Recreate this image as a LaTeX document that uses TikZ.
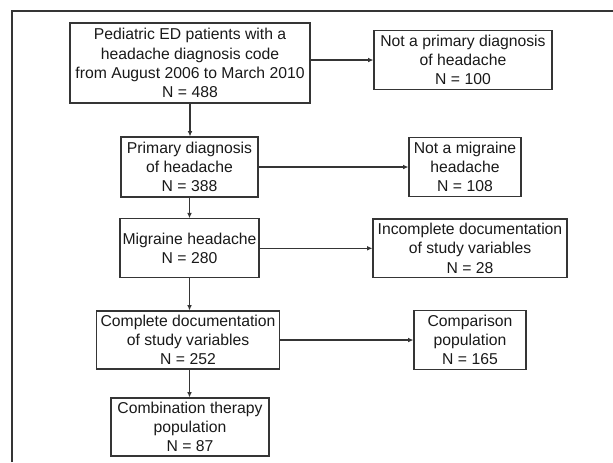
\documentclass[tikz,border=0pt]{standalone}
\usepackage{fontspec}
\setmainfont{Liberation Sans}
\usetikzlibrary{arrows.meta}
\definecolor{linegray}{HTML}{353535}

\tikzset{
	flowbox/.style={draw=linegray, line width=0.8pt, align=center, inner sep=0pt,
		text=black!90, font=\fontsize{11.8}{14.4}\selectfont},
}

\begin{document}
\begin{tikzpicture}[x=0.75pt, y=-0.75pt, >={Latex[length=4pt,width=3.5pt]}]
	\useasboundingbox (0,0) rectangle (613,462);
	\draw [linegray, line width=0.8pt] (12,462) -- (12,11) -- (613,11);
	\node [flowbox, minimum width=180pt, minimum height=60pt] (ED) at (190,63) {Pediatric ED patients with a\\headache diagnosis code\\from August 2006 to March 2010\\N = 488};
	\node [flowbox, minimum width=102.75pt, minimum height=45pt] (PH) at (189.5,167) {Primary diagnosis\\of headache\\N = 388};
	\node [flowbox, minimum width=104.25pt, minimum height=44.25pt] (MH) at (189.5,248.3) {Migraine headache\\N = 280};
	\node [flowbox, minimum width=137.25pt, minimum height=43.5pt] (CD) at (188,340) {Complete documentation\\of study variables\\N = 252};
	\node [flowbox, minimum width=118.5pt, minimum height=43.5pt] (CT) at (190,427) {Combination therapy\\population\\N = 87};
	\node [flowbox, minimum width=133.5pt, minimum height=44pt] (NP) at (463,60) {Not a primary diagnosis\\of headache\\N = 100};
	\node [flowbox, minimum width=84pt, minimum height=44.5pt] (NM) at (465,167) {Not a migraine\\headache\\N = 108};
	\node [flowbox, minimum width=145.5pt, minimum height=44pt] (ID) at (470,248.3) {Incomplete documentation\\of study variables\\N = 28};
	\node [flowbox, minimum width=84pt, minimum height=44.25pt] (CP) at (470,340) {Comparison\\population\\N = 165};
	\begin{scope}[draw=linegray, line width=0.8pt]
	\draw [->] (ED.south) -- (ED.south |- PH.north);
	\draw [->] (PH.south) -- (PH.south |- MH.north);
	\draw [->] (MH.south) -- (MH.south |- CD.north);
	\draw [->] (MH.south |- CD.south) -- (MH.south |- CT.north);
	\draw [->] (ED.east |- NP.west) -- (NP.west);
	\draw [->] (PH.east |- NM.west) -- (NM.west);
	\draw [->] (MH.east |- ID.west) -- (ID.west);
	\draw [->] (CD.east |- CP.west) -- (CP.west);
	\end{scope}
\end{tikzpicture}
\end{document}
